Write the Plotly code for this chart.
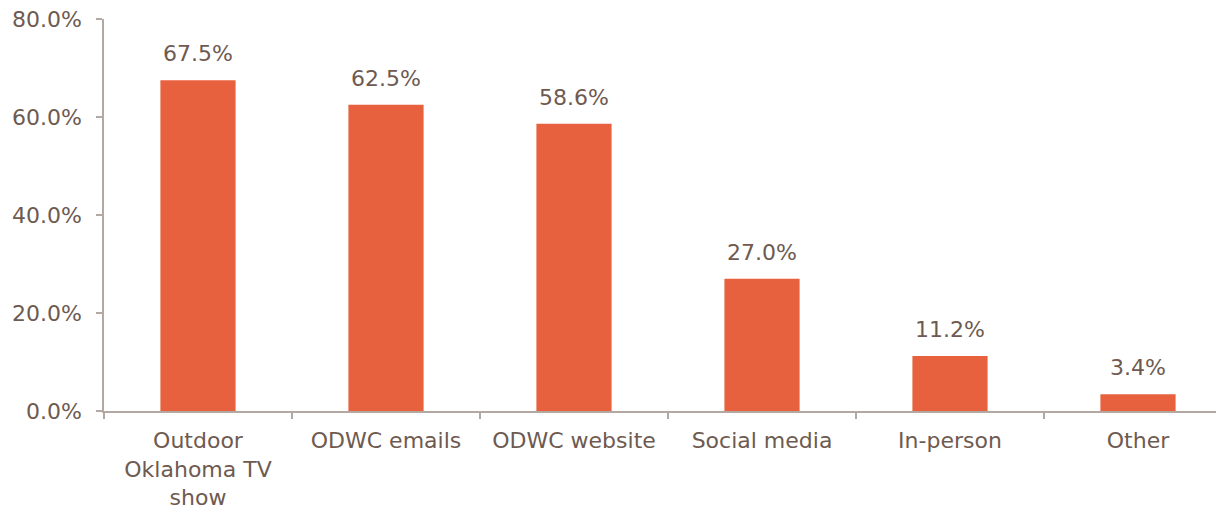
import plotly.graph_objects as go

categories = ["Outdoor<br>Oklahoma TV<br>show", "ODWC emails", "ODWC website", "Social media", "In-person", "Other"]
values = [67.5, 62.5, 58.6, 27.0, 11.2, 3.4]
y_ticks = [0, 20, 40, 60, 80]
y_ticklabels = ["0.0%", "20.0%", "40.0%", "60.0%", "80.0%"]

TEXT = "#6E5A50"
AXIS = "#B3A8A2"
BAR = "#E8613F"
FONT = "DejaVu Sans"
FS = 22

fig = go.Figure(go.Bar(
    x=categories, y=values,
    marker=dict(color=BAR, line=dict(width=0)),
    width=0.4,
    hoverinfo="x+y",
))

for c, v in zip(categories, values):
    fig.add_annotation(
        x=c, y=v, text=f"{v:.1f}%", showarrow=False,
        yanchor="bottom", yshift=12,
        font=dict(family=FONT, size=FS, color=TEXT),
    )

fig.update_layout(
    width=1224, height=510,
    margin=dict(l=96, r=0, t=11, b=107, autoexpand=False),
    plot_bgcolor="white", paper_bgcolor="white",
    showlegend=False,
    font=dict(family=FONT, size=FS, color=TEXT),
)
fig.update_yaxes(
    range=[0, 80], tickvals=y_ticks, ticktext=y_ticklabels,
    showgrid=False, zeroline=False, automargin=False,
    showline=True, linecolor=AXIS, linewidth=1.5,
    ticks="outside", ticklen=6, tickcolor=AXIS, tickwidth=1.5,
    ticklabelstandoff=10, ticklabeloverflow="allow",
    tickfont=dict(family=FONT, size=FS, color=TEXT),
)
fig.update_xaxes(
    showgrid=False, showline=True, linecolor=AXIS, linewidth=1.5, automargin=False,
    ticks="outside", ticklen=6, tickcolor=AXIS, tickwidth=1.5,
    tickson="boundaries", ticklabelstandoff=9, ticklabeloverflow="allow",
    tickfont=dict(family=FONT, size=FS, color=TEXT),
)

fig.write_html("out.html")
